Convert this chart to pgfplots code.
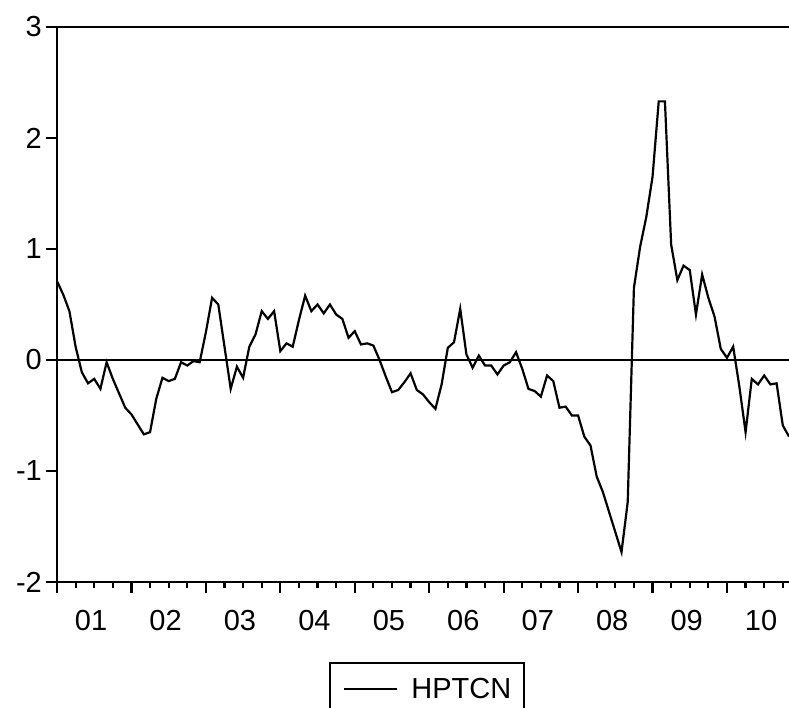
\documentclass[border=0pt]{standalone}
\usepackage{fontspec}
\setmainfont{Liberation Sans}
\usepackage{pgfplots}
\pgfplotsset{compat=1.18}
\usepackage{pgfplotstable}

% HPTCN, monthly 2001M01--2010M11 (t = months since 2001M01)
\pgfplotstableread{
t v
0 0.71
1 0.59
2 0.44
3 0.12
4 -0.11
5 -0.21
6 -0.17
7 -0.26
8 -0.02
9 -0.17
10 -0.30
11 -0.43
12 -0.49
13 -0.58
14 -0.67
15 -0.65
16 -0.35
17 -0.16
18 -0.19
19 -0.17
20 -0.02
21 -0.05
22 -0.01
23 -0.02
24 0.25
25 0.56
26 0.50
27 0.12
28 -0.26
29 -0.06
30 -0.16
31 0.12
32 0.23
33 0.44
34 0.37
35 0.44
36 0.08
37 0.15
38 0.12
39 0.36
40 0.58
41 0.44
42 0.50
43 0.42
44 0.50
45 0.41
46 0.37
47 0.20
48 0.26
49 0.14
50 0.15
51 0.13
52 0.00
53 -0.15
54 -0.29
55 -0.27
56 -0.20
57 -0.12
58 -0.27
59 -0.31
60 -0.38
61 -0.44
62 -0.22
63 0.11
64 0.16
65 0.46
66 0.05
67 -0.07
68 0.04
69 -0.05
70 -0.05
71 -0.13
72 -0.05
73 -0.02
74 0.07
75 -0.08
76 -0.26
77 -0.28
78 -0.33
79 -0.14
80 -0.19
81 -0.43
82 -0.42
83 -0.50
84 -0.50
85 -0.69
86 -0.77
87 -1.05
88 -1.19
89 -1.37
90 -1.55
91 -1.73
92 -1.28
93 0.65
94 1.02
95 1.29
96 1.65
97 2.33
98 2.33
99 1.04
100 0.72
101 0.85
102 0.81
103 0.41
104 0.77
105 0.56
106 0.39
107 0.10
108 0.02
109 0.12
110 -0.24
111 -0.65
112 -0.17
113 -0.22
114 -0.14
115 -0.22
116 -0.21
117 -0.59
118 -0.69
}\hptcn

\newcommand{\bigfont}{\fontsize{29pt}{34pt}\selectfont}

\begin{document}
\begin{tikzpicture}
\path[use as bounding box] (-57pt,-126pt) rectangle (732pt,582pt);
\begin{axis}[
  scale only axis,
  width=732pt, height=555pt,
  xmin=0, xmax=118, ymin=-2, ymax=3,
  axis lines*=left,
  axis line style={-, line width=2.2pt},
  tick align=outside,
  major tick length=11pt,
  minor tick length=6pt,
  every tick/.style={black, line width=2.2pt},
  xtick={0,12,...,108},
  xticklabels={},
  minor xtick={3,6,9,15,18,21,27,30,33,39,42,45,51,54,57,63,66,69,75,78,81,87,90,93,99,102,105,111,114,117},
  extra x ticks={5.5,17.5,29.5,41.5,53.5,65.5,77.5,89.5,101.5,113.5},
  extra x tick labels={01,02,03,04,05,06,07,08,09,10},
  extra x tick style={tick style={draw=none}},
  ytick={-2,-1,0,1,2,3},
  yticklabels={-2,-1,0,1,2,3},
  tick label style={font=\bigfont, inner sep=0pt},
  xticklabel style={yshift=-17pt},
  yticklabel style={xshift=-4pt},
  legend style={
    at={(rel axis cs:0.3716,-0.1441)}, anchor=north west,
    draw=black, line width=2.2pt,
    font=\bigfont,
    inner xsep=13pt, inner ysep=15pt,
    nodes={inner sep=0pt},
    column sep=13pt,
    legend columns=1,
  },
  legend cell align=left,
  legend image code/.code={\draw[#1] (0pt,0pt) -- (53pt,0pt);},
]
\addplot[black, line width=2.2pt, forget plot] coordinates {(0,0) (118,0)};
\addplot[black, line width=2.2pt] table[x=t, y=v] {\hptcn};
\legend{HPTCN}
\draw[line width=2.2pt] (rel axis cs:0,1) -- (rel axis cs:1,1);
\end{axis}
\end{tikzpicture}
\end{document}
